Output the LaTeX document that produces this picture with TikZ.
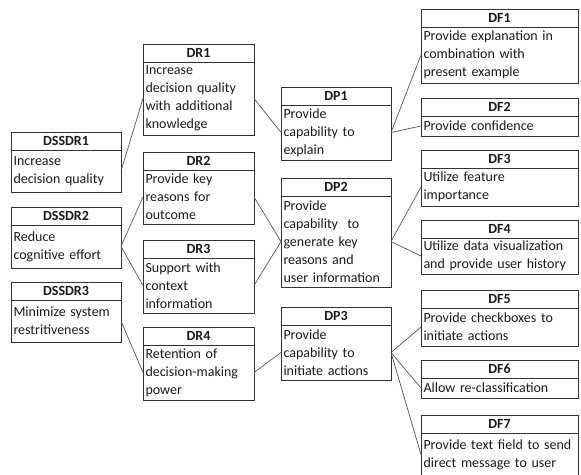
\documentclass[tikz,border=0pt]{standalone}
\usepackage{fontspec}
\setmainfont{Carlito}
\definecolor{bordc}{HTML}{333333}
\definecolor{linec}{HTML}{555555}
\definecolor{txtc}{HTML}{1A1A1A}
\tikzset{
  box/.style={draw=bordc, line width=0.8pt, outer sep=0pt, text=txtc},
  hdr/.style={box, inner sep=0pt, font=\fontsize{14}{18}\selectfont\bfseries, align=center},
  bdy/.style={box, inner xsep=2.5pt, inner ysep=0pt, align=left, font=\fontsize{14}{18}\selectfont},
  link/.style={draw=linec, line width=0.7pt},
}
% \mybox{name}{x}{top}{width}{header h}{body h}{title}{text}
\newcommand{\mybox}[8]{%
  \node[hdr, minimum width=#4pt, minimum height=#5pt, anchor=north west] (#1h) at (#2,#3) {#7};
  \node[bdy, minimum width=#4pt, minimum height=#6pt, text width=#4pt-5pt, anchor=north west] (#1) at (#1h.south west) {#8};
}
\begin{document}
\begin{tikzpicture}[x=1pt,y=-1pt]
\useasboundingbox (0,0) rectangle (581,474);
\mybox{s1}{11}{132}{110}{18}{42}{DSSDR1}{Increase\\decision quality}
\mybox{s2}{11}{207}{110}{18}{43}{DSSDR2}{Reduce\\cognitive effort}
\mybox{s3}{11}{282}{110}{18}{42}{DSSDR3}{Minimize system\\restritiveness}
\mybox{r1}{143}{44}{111}{18}{73}{DR1}{Increase\\decision quality\\with additional\\knowledge}
\mybox{r2}{143}{152}{111}{18}{54}{DR2}{Provide key\\reasons for\\outcome}
\mybox{r3}{143}{240}{111}{18}{55}{DR3}{Support with\\context\\information}
\mybox{r4}{143}{327}{111}{18}{55}{DR4}{Retention of\\decision-making\\power}
\mybox{p1}{281}{87}{110}{18}{55}{DP1}{Provide\\capability to\\explain}
\mybox{p2}{281}{178}{110}{18}{91}{DP2}{Provide\\capability~ to\\generate key\\reasons and\\user information}
\mybox{p3}{281}{307}{110}{18}{55}{DP3}{Provide\\capability to\\initiate actions}
\mybox{f1}{421}{9}{157}{18}{56}{DF1}{Provide explanation in\\combination with\\present example}
\mybox{f2}{421}{98}{157}{18}{20}{DF2}{Provide confidence}
\mybox{f3}{421}{150}{157}{18}{38}{DF3}{Utilize feature\\importance}
\mybox{f4}{421}{220}{157}{18}{36}{DF4}{Utilize data visualization\\and provide user history}
\mybox{f5}{421}{290}{157}{18}{38}{DF5}{Provide checkboxes to\\initiate actions}
\mybox{f6}{421}{360}{157}{18}{20}{DF6}{Allow re-classification}
\mybox{f7}{421}{415}{157}{18}{43}{DF7}{Provide text field to send\\direct message to user}
\draw[link] (s1.east) -- (r1.west);
\draw[link] (s2.east) -- (r2.west);
\draw[link] (s2.east) -- (r3.west);
\draw[link] (s3.east) -- (r4.west);
\draw[link] (r1.east) -- (p1.west);
\draw[link] (r2.east) -- (p2.west);
\draw[link] (r3.east) -- (p2.west);
\draw[link] (r4.east) -- (p3.west);
\draw[link] (p1.east) -- (f1.west);
\draw[link] (p1.east) -- (f2.west);
\draw[link] (p2.east) -- (f3.west);
\draw[link] (p2.east) -- (f4.west);
\draw[link] (p3.east) -- (f5.west);
\draw[link] (p3.east) -- (f6.west);
\draw[link] (p3.east) -- (f7.west);
\end{tikzpicture}
\end{document}
